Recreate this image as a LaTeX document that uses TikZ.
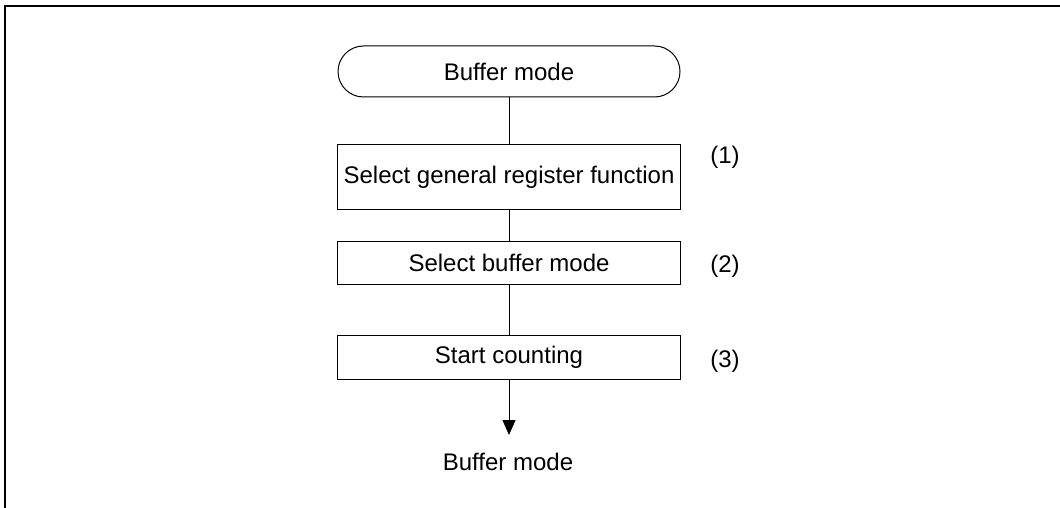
\documentclass[tikz,border=0pt]{standalone}
\usepackage{fontspec}
\setmainfont{Liberation Sans}
\usetikzlibrary{arrows.meta}
\begin{document}
\begin{tikzpicture}[x=0.5pt,y=-0.5pt,
  every node/.style={font=\fontsize{12}{14}\selectfont, inner sep=0pt, outer sep=0pt},
  stepbox/.style={draw, line width=0.5pt, minimum width=171.5pt},
  termbox/.style={draw, line width=0.5pt, rounded corners=12.75pt, minimum width=171pt, minimum height=25.5pt},
  link/.style={line width=0.5pt},
  framestyle/.style={line width=1pt}]
\useasboundingbox (0,0) rectangle (1060,508);
\draw[framestyle] (1060,6) -- (5,6) -- (5,508);
\node[termbox] (start) at (509,71.5) {Buffer mode};
\node[stepbox, minimum height=32pt] (s1) at (509,177) {Select general register function};
\node[stepbox, minimum height=21.5pt] (s2) at (509,262.5) {Select buffer mode};
\node[stepbox, minimum height=22pt] (s3) at (509,357) {Start counting};
\node (l1) at (725,157) {(1)};
\node (l2) at (725,266) {(2)};
\node (l3) at (725,361) {(3)};
\coordinate (tip) at (509,435);
\node[anchor=base] (endtxt) at (508,470) {Buffer mode};
\draw[link] (start) -- (s1);
\draw[link] (s1) -- (s2);
\draw[link] (s2) -- (s3);
\draw[link, -{Triangle[width=6.5pt,length=7.5pt]}] (s3) -- (tip);
\end{tikzpicture}
\end{document}
